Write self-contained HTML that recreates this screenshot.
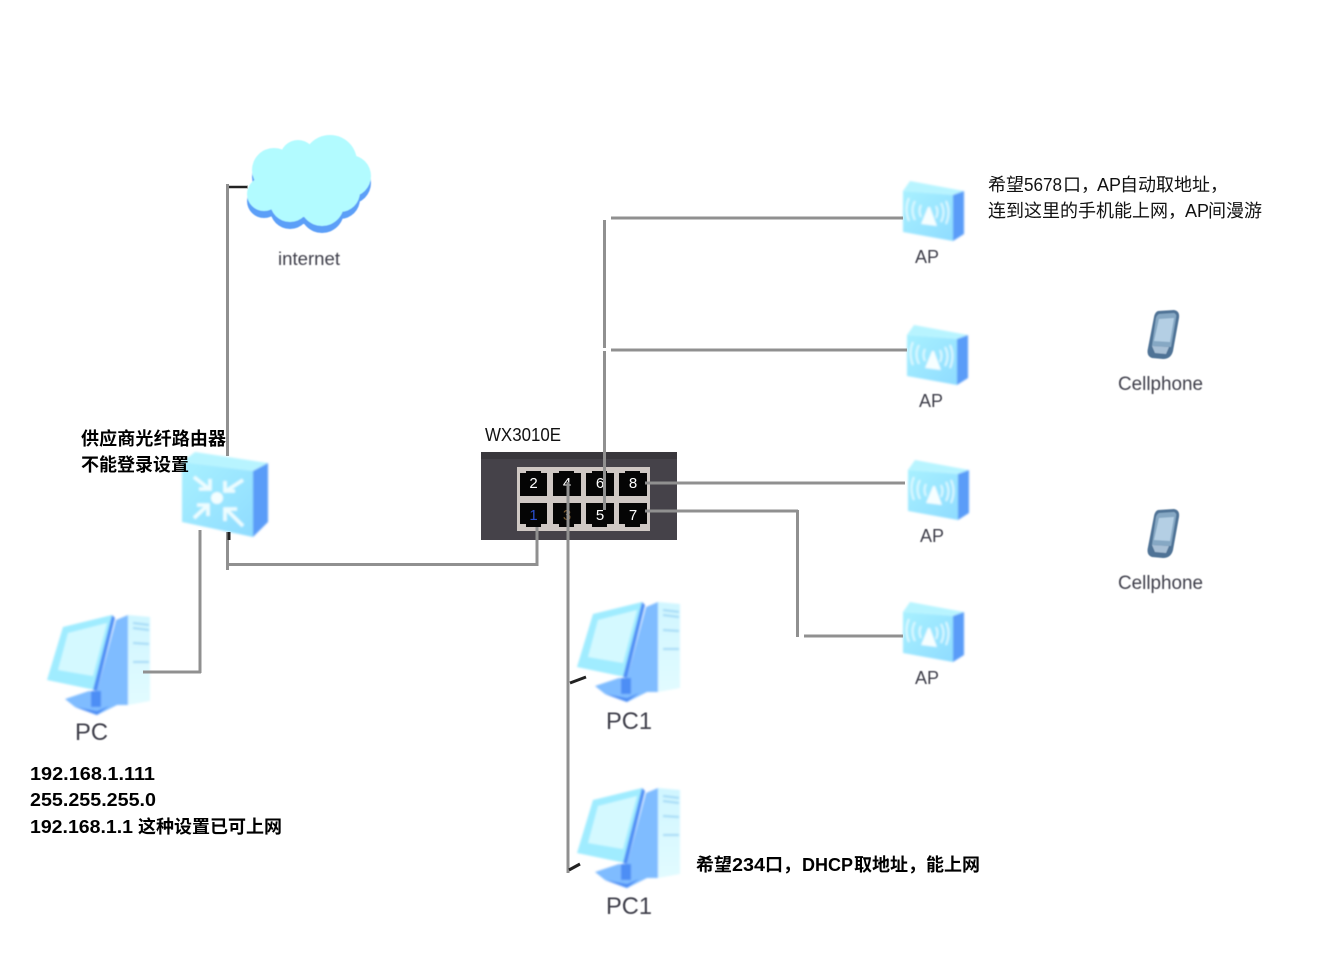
<!DOCTYPE html>
<html><head><meta charset="utf-8"><style>
html,body{margin:0;padding:0;background:#fff;width:1338px;height:965px;overflow:hidden}
svg{display:block}
text{font-family:"Liberation Sans","Noto Sans CJK SC",sans-serif}
.lab{fill:#40404c;filter:url(#b1)}
.cn{fill:#000;font-size:18px;font-weight:700}
.cr{fill:#111;font-size:18px}
.pn{fill:#fff;font-size:15px;text-anchor:middle}
</style></head><body>
<svg width="1338" height="965" viewBox="0 0 1338 965" xmlns="http://www.w3.org/2000/svg">
<defs>
<filter id="b1" x="-10%" y="-10%" width="120%" height="120%"><feGaussianBlur stdDeviation="0.45"/></filter>
<filter id="b2" x="-10%" y="-10%" width="120%" height="120%"><feGaussianBlur stdDeviation="1"/></filter>
<linearGradient id="fr" x1="0" y1="0" x2="1" y2="1"><stop offset="0" stop-color="#a8f0ff"/><stop offset="1" stop-color="#8fdcff"/></linearGradient>
<linearGradient id="tw" x1="0" y1="0" x2="0" y2="1"><stop offset="0" stop-color="#d0f6ff"/><stop offset="1" stop-color="#e2fbff"/></linearGradient>
<g id="lobes">
<circle cx="274" cy="170" r="22"/><circle cx="298" cy="158" r="18"/><circle cx="330" cy="162" r="27"/>
<circle cx="350" cy="176" r="21"/><circle cx="340" cy="192" r="20"/><circle cx="322" cy="204" r="22"/>
<circle cx="290" cy="202" r="20"/><circle cx="264" cy="194" r="17"/><circle cx="305" cy="182" r="35"/>
</g>
<symbol id="ap" width="62" height="61" viewBox="0 0 62 61" overflow="visible">
<g filter="url(#b2)">
<polygon points="7,0 61,10 50,14 0,10" fill="#b8f4ff"/>
<polygon points="0,10 50,14 50,60 0,51" fill="url(#fr)"/>
<polygon points="50,14 61,10 61,53 50,60" fill="#5a9cf8"/>
<polygon points="25,26 27,26 34,45 18,43" fill="#f6feff"/>
<g fill="none" stroke="#e6fbff" stroke-width="1.800">
<path d="M18,24 q-3,6 0,12"/><path d="M12,20 q-5,9 0,19"/><path d="M6,17 q-5,11 0,23"/>
<path d="M33,25 q3,6 0,12"/><path d="M38,22 q5,9 0,19"/><path d="M43,20 q5,11 0,23"/>
</g></g>
</symbol>
<symbol id="pc" width="104" height="102" viewBox="0 0 104 102" overflow="visible">
<g filter="url(#b2)">
<polygon points="16,12 65,0 48,75 0,65" fill="#a0ecff"/>
<polygon points="21,18 60,8 46,61 11,55" fill="#d4f9ff"/>
<polygon points="65,0 68,3 50,76 46,75" fill="#4e8ef5"/>
<polygon points="69,5 81,0 81,90 50,90 50,76" fill="#7fbcff"/>
<polygon points="81,0 103,2 103,86 81,90" fill="url(#tw)"/>
<g stroke="#a0d8f6" stroke-width="2"><path d="M86,8 L102,10"/><path d="M86,13 L102,15"/><path d="M86,28 L102,29"/><path d="M86,47 L102,47"/></g>
<polygon points="18,84 42,76 60,80 70,90 50,100 28,92" fill="#7fbcff"/>
<polygon points="44,76 54,76 54,92 44,92" fill="#4e8ef5"/>
<polygon points="28,92 50,100 62,91 50,96" fill="#4e8ef5"/>
</g>
</symbol>
<symbol id="phone" width="36" height="52" viewBox="0 0 36 52" overflow="visible">
<g filter="url(#b1)">
<path d="M12,2 L28,1 Q34,2 33,9 L27,42 Q25,50 17,50 L6,49 Q0,47 2,39 L8,8 Q9,3 12,2 Z" fill="#4f7396"/>
<path d="M13,5 L28,4 Q31,5 30,9 L25,38 L6,37 L10,9 Q11,6 13,5 Z" fill="#86a8c4"/>
<polygon points="13,10 28,9 24,33 8,32" fill="#b4cfe4"/>
<path d="M6,37 L23,38 L20,45 L9,44 Z" fill="#a8c0d6"/>
</g>
</symbol>
</defs>

<rect width="1338" height="965" fill="#fff"/>

<!-- cloud -->
<g filter="url(#b1)">
<use href="#lobes" y="7" fill="#5c9ff8"/>
<use href="#lobes" fill="#b2fbff"/>
</g>
<text x="278" y="265" class="lab" font-size="18" textLength="62" lengthAdjust="spacingAndGlyphs">internet</text>

<!-- switch -->
<rect x="481" y="452" width="196" height="88" fill="#454249"/>
<rect x="481" y="452" width="196" height="7" fill="#39373c"/>
<rect x="517" y="467" width="133" height="64" fill="#cfc8c4"/>
<g fill="#050505">
<path d="M520,473 h6 v-2 h15 v2 h6 v23 h-27 z"/>
<path d="M553,473 h6 v-2 h15 v2 h7 v23 h-28 z"/>
<path d="M586,473 h6 v-2 h15 v2 h7 v23 h-28 z"/>
<path d="M619,473 h6 v-2 h15 v2 h7 v23 h-28 z"/>
<path d="M520,503 h27 v21 h-6 v3 h-15 v-3 h-6 z"/>
<path d="M553,503 h28 v21 h-7 v3 h-15 v-3 h-6 z"/>
<path d="M586,503 h28 v21 h-7 v3 h-15 v-3 h-6 z"/>
<path d="M619,503 h28 v21 h-7 v3 h-15 v-3 h-6 z"/>
</g>
<text x="533.500" y="488" class="pn">2</text>
<text x="567" y="488" class="pn">4</text>
<text x="600" y="488" class="pn">6</text>
<text x="633" y="488" class="pn">8</text>
<text x="533.500" y="520" class="pn" style="fill:#2a4fd0">1</text>
<text x="567" y="520" class="pn" style="fill:#7a5a30">3</text>
<text x="600" y="520" class="pn">5</text>
<text x="633" y="520" class="pn">7</text>

<!-- router -->
<g filter="url(#b2)">
<polygon points="195,452 268,463 253,471 182,462" fill="#b8f4ff"/>
<polygon points="182,462 253,471 253,537 182,522" fill="url(#fr)"/>
<polygon points="253,471 268,463 268,522 253,537" fill="#5a9cf8"/>
<circle cx="217" cy="498" r="6" fill="#f4feff"/>
<g fill="none" stroke="#eefdff" stroke-width="3.600">
<path d="M194,477 L209,489 M210,479 V489 H199"/>
<path d="M243,480 L226,491 M225,481 V491 H235"/>
<path d="M194,518 L208,505 M208,516 V505 H197"/>
<path d="M243,526 L226,509 M225,521 V509 H237"/>
</g>
</g>

<!-- icons -->
<use href="#pc" x="47" y="615"/>
<use href="#pc" x="577" y="602"/>
<use href="#pc" x="577" y="788"/>
<use href="#ap" x="903" y="181"/>
<use href="#ap" x="907" y="325"/>
<use href="#ap" x="908" y="460"/>
<use href="#ap" x="903" y="602"/>
<use href="#phone" x="1146" y="309"/>
<use href="#phone" x="1146" y="508"/>

<!-- connectors -->
<g stroke="#909090" stroke-width="3" fill="none">
<path d="M227.500,184 V456"/>
<path d="M228,187 H248"/>
<path d="M227.500,532 V570"/>
<path d="M228,564.500 H538"/>
<path d="M537,527 V566"/>
<path d="M200,530 V673"/>
<path d="M143,672 H201"/>
<path d="M604.500,220 V348"/>
<path d="M604.500,351 V510"/>
<path d="M611,218 H903"/>
<path d="M611,350 H907"/>
<path d="M645,483 H905"/>
<path d="M645,511 H798"/>
<path d="M797.500,510 V637"/>
<path d="M804,636 H903"/>
<path d="M568,482 V873"/>
</g>
<g stroke="#222" fill="none">
<path d="M229,187 H247" stroke-width="2"/>
<path d="M570,683 L586,677" stroke-width="3"/>
<path d="M569,870 L580,864" stroke-width="3"/>
<path d="M229,532 V540" stroke-width="3"/>
</g>

<!-- labels -->
<text x="915" y="263" class="lab" font-size="18" textLength="24" lengthAdjust="spacingAndGlyphs">AP</text>
<text x="919" y="407" class="lab" font-size="18" textLength="24" lengthAdjust="spacingAndGlyphs">AP</text>
<text x="920" y="542" class="lab" font-size="18" textLength="24" lengthAdjust="spacingAndGlyphs">AP</text>
<text x="915" y="684" class="lab" font-size="18" textLength="24" lengthAdjust="spacingAndGlyphs">AP</text>
<text x="1118" y="390" class="lab" font-size="19" textLength="85" lengthAdjust="spacingAndGlyphs">Cellphone</text>
<text x="1118" y="589" class="lab" font-size="19" textLength="85" lengthAdjust="spacingAndGlyphs">Cellphone</text>
<text x="75" y="740" class="lab" font-size="24" textLength="33" lengthAdjust="spacingAndGlyphs">PC</text>
<text x="606" y="729" class="lab" font-size="24" textLength="46" lengthAdjust="spacingAndGlyphs">PC1</text>
<text x="606" y="914" class="lab" font-size="24" textLength="46" lengthAdjust="spacingAndGlyphs">PC1</text>

<text x="485" y="441" font-size="18" fill="#111" textLength="76" lengthAdjust="spacingAndGlyphs">WX3010E</text>
<text x="81" y="445" class="cn" textLength="145">供应商光纤路由器</text>
<text x="81" y="471" class="cn" textLength="108">不能登录设置</text>
<text x="30" y="780" class="cn" textLength="125" lengthAdjust="spacingAndGlyphs">192.168.1.111</text>
<text x="30" y="806" class="cn" textLength="126" lengthAdjust="spacingAndGlyphs">255.255.255.0</text>
<text x="30" y="833" class="cn"><tspan textLength="103" lengthAdjust="spacingAndGlyphs">192.168.1.1</tspan><tspan x="138">这种设置已可上网</tspan></text>
<text y="871" class="cn"><tspan x="696">希望</tspan><tspan x="732" textLength="33" lengthAdjust="spacingAndGlyphs">234</tspan><tspan x="765">口，</tspan><tspan x="802">DHCP</tspan><tspan x="854">取地址，</tspan><tspan x="926">能上网</tspan></text>
<text y="191" class="cr"><tspan x="988">希望</tspan><tspan x="1024" textLength="38" lengthAdjust="spacingAndGlyphs">5678</tspan><tspan x="1063">口，</tspan><tspan x="1097">AP</tspan><tspan x="1120">自动取地址，</tspan></text>
<text y="217" class="cr"><tspan x="988">连到这里的手机能上网，</tspan><tspan x="1185">AP</tspan><tspan x="1208">间漫游</tspan></text>
</svg>
</body></html>
